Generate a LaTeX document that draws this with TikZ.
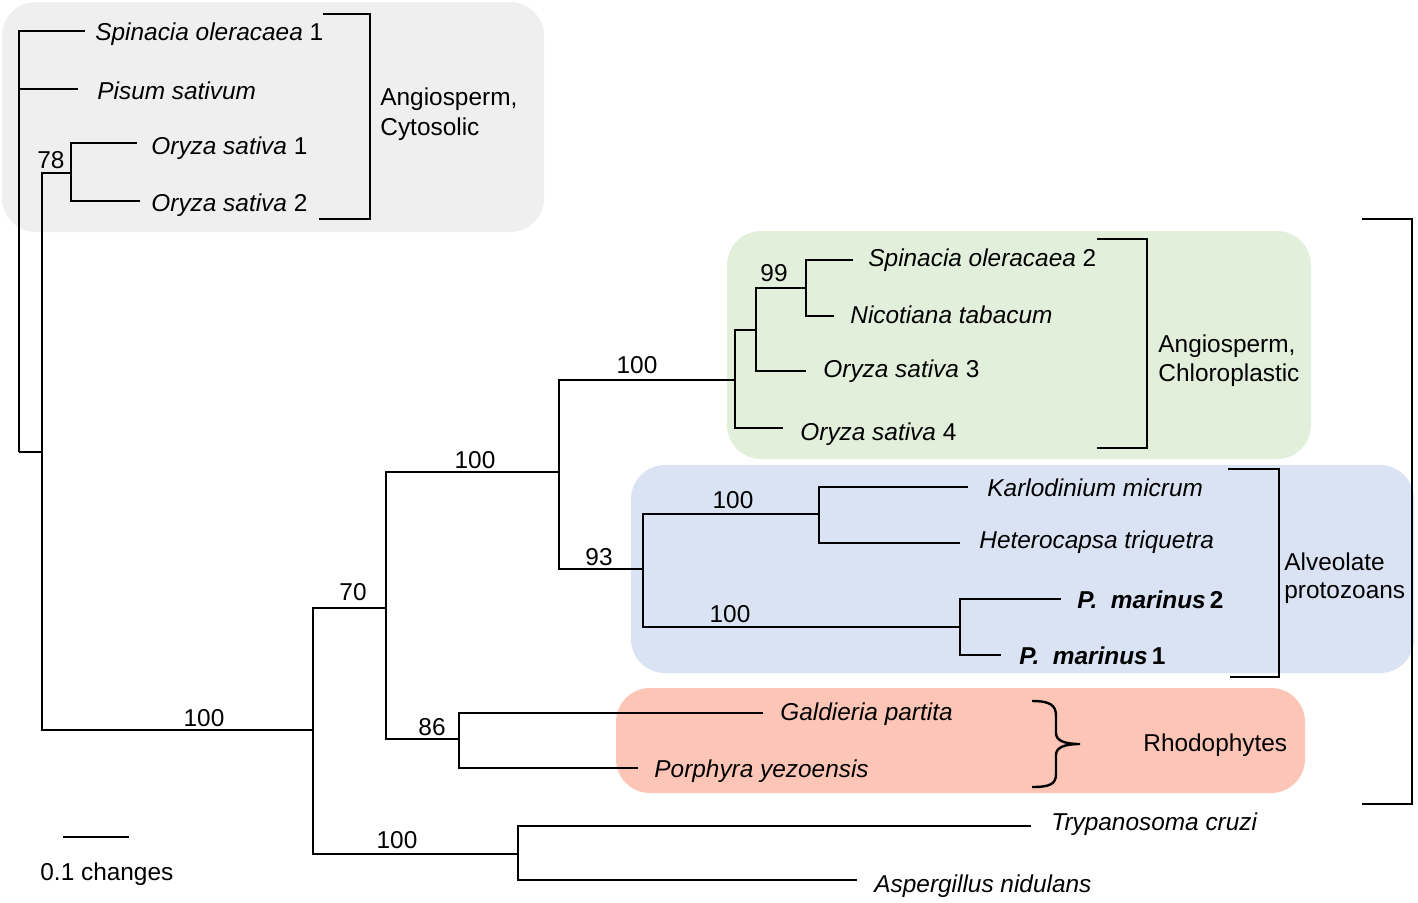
\documentclass[tikz,border=0pt]{standalone}
\usepackage{fontspec}
\setmainfont{Liberation Sans}
\definecolor{boxgray}{HTML}{EFEFEF}
\definecolor{boxgreen}{HTML}{E2EFDA}
\definecolor{boxblue}{HTML}{DAE3F3}
\definecolor{boxpink}{HTML}{FDC5B6}
\newcommand{\labfont}{\fontsize{12.2}{14.6}\selectfont}
\begin{document}
\begin{tikzpicture}[x=0.5pt,y=-0.5pt,
  edge/.style={line width=1.2pt},
  bracket/.style={line width=1.2pt},
  taxon/.style={anchor=base west, inner sep=0pt, font=\labfont\itshape},
  grouplab/.style={anchor=base west, inner sep=0pt, font=\labfont},
  support/.style={anchor=base, inner sep=0pt, font=\labfont},
  grp/.style={rounded corners=17pt, draw=none}]
\useasboundingbox (0,0) rectangle (1418,902);

% group backgrounds
\fill[grp, boxgray]  (2,2) rectangle (544,232);
\fill[grp, boxgreen] (727,231) rectangle (1311,459);
\fill[grp, boxblue]  (631,465) rectangle (1414,673);
\fill[grp, boxpink]  (616,688) rectangle (1305,793);

% internal nodes
\coordinate (r0)  at (19,452);
\coordinate (n1)  at (42,452);
\coordinate (n78) at (71,173);
\coordinate (nA)  at (313,730);
\coordinate (n70) at (386,608);
\coordinate (nC)  at (559,472);
\coordinate (nD)  at (735,380);
\coordinate (nE)  at (756,330);
\coordinate (n99) at (806,288);
\coordinate (n93) at (643,569);
\coordinate (nK)  at (819,514);
\coordinate (nP)  at (960,627);
\coordinate (n86) at (459,739);
\coordinate (nB)  at (518,854);

% tips
\coordinate (tS1)  at (85,31);
\coordinate (tPis) at (78,89);
\coordinate (tO1)  at (137,143);
\coordinate (tO2)  at (140,201);
\coordinate (tS2)  at (853,260);
\coordinate (tNic) at (834,316);
\coordinate (tO3)  at (806,371);
\coordinate (tO4)  at (783,428);
\coordinate (tKar) at (968,487);
\coordinate (tHet) at (960,543);
\coordinate (tPM2) at (1061,599);
\coordinate (tPM1) at (1001,655);
\coordinate (tGal) at (763,713);
\coordinate (tPor) at (638,768);
\coordinate (tTry) at (1031,826);
\coordinate (tAsp) at (857,880);

% tree edges
\draw[edge] (r0) |- (tS1);
\draw[edge] (r0) |- (tPis);
\draw[edge] (r0) -- (n1);
\draw[edge] (n1) |- (n78);
\draw[edge] (n1) |- (nA);
\draw[edge] (n78) |- (tO1);
\draw[edge] (n78) |- (tO2);
\draw[edge] (nA) |- (n70);
\draw[edge] (nA) |- (nB);
\draw[edge] (n70) |- (nC);
\draw[edge] (n70) |- (n86);
\draw[edge] (nC) |- (nD);
\draw[edge] (nC) |- (n93);
\draw[edge] (nD) |- (nE);
\draw[edge] (nD) |- (tO4);
\draw[edge] (nE) |- (n99);
\draw[edge] (nE) |- (tO3);
\draw[edge] (n99) |- (tS2);
\draw[edge] (n99) |- (tNic);
\draw[edge] (n93) |- (nK);
\draw[edge] (n93) |- (nP);
\draw[edge] (nK) |- (tKar);
\draw[edge] (nK) |- (tHet);
\draw[edge] (nP) |- (tPM2);
\draw[edge] (nP) |- (tPM1);
\draw[edge] (n86) |- (tGal);
\draw[edge] (n86) |- (tPor);
\draw[edge] (nB) |- (tTry);
\draw[edge] (nB) |- (tAsp);

% taxon labels
\node[taxon] (lS1)  at (95,40)   {Spinacia oleracaea \upshape 1};
\node[taxon] (lPis) at (97,99)   {Pisum sativum};
\node[taxon] (lO1)  at (151,154) {Oryza sativa \upshape 1};
\node[taxon] (lO2)  at (151,211) {Oryza sativa \upshape 2};
\node[taxon] (lS2)  at (868,266) {Spinacia oleracaea \upshape 2};
\node[taxon] (lNic) at (850,323) {Nicotiana tabacum};
\node[taxon] (lO3)  at (823,377) {Oryza sativa \upshape 3};
\node[taxon] (lO4)  at (800,440) {Oryza sativa \upshape 4};
\node[taxon] (lKar) at (987,496) {Karlodinium micrum};
\node[taxon] (lHet) at (979,548) {Heterocapsa triquetra};
\node[taxon, font=\labfont\bfseries\itshape] (lPM2) at (1077,608) {P.\ \ marinus\,\upshape 2};
\node[taxon, font=\labfont\bfseries\itshape] (lPM1) at (1019,664) {P.\ \ marinus\,\upshape 1};
\node[taxon] (lGal) at (780,720) {Galdieria partita};
\node[taxon] (lPor) at (654,777) {Porphyra yezoensis};
\node[taxon] (lTry) at (1051,830) {Trypanosoma cruzi};
\node[taxon] (lAsp) at (874,892) {Aspergillus nidulans};

% support values
\node[support] (s78)  at (51,168)  {78};
\node[support] (s99)  at (774,281) {99};
\node[support] (s100d) at (637,373) {100};
\node[support] (s100c) at (475,468) {100};
\node[support] (s93)  at (599,565) {93};
\node[support] (s100k) at (733,508) {100};
\node[support] (s100p) at (730,622) {100};
\node[support] (s70)  at (353,600) {70};
\node[support] (s100a) at (204,726) {100};
\node[support] (s86)  at (432,735) {86};
\node[support] (s100b) at (397,848) {100};

% group brackets
\draw[bracket] (323,14) -- (370,14) -- (370,219) -- (319,219);
\draw[bracket] (1097,239) -- (1147,239) -- (1147,448) -- (1097,448);
\draw[bracket] (1228,469) -- (1279,469) -- (1279,677) -- (1230,677);
\draw[bracket] (1362,219) -- (1412,219) -- (1412,804) -- (1362,804);
\draw[line width=1.2pt] (1032,701) .. controls (1050,701) and (1056,705) .. (1056,716)
  -- (1056,733) .. controls (1056,740) and (1063,744) .. (1080,744)
  .. controls (1063,744) and (1056,748) .. (1056,755)
  -- (1056,774) .. controls (1056,784) and (1050,787) .. (1032,787);

% group labels
\node[grouplab] (gCy1) at (380,105) {Angiosperm,};
\node[grouplab] (gCy2) at (380,135) {Cytosolic};
\node[grouplab] (gCh1) at (1158,352) {Angiosperm,};
\node[grouplab] (gCh2) at (1158,381) {Chloroplastic};
\node[grouplab] (gAl1) at (1284,570) {Alveolate};
\node[grouplab] (gAl2) at (1284,598) {protozoans};
\node[grouplab] (gRh)  at (1143,751) {Rhodophytes};

% scale bar
\coordinate (sb1) at (63,837);
\coordinate (sb2) at (129,837);
\draw[edge] (sb1) -- (sb2);
\node[grouplab] (sbl) at (40,880) {0.1 changes};
\end{tikzpicture}
\end{document}
